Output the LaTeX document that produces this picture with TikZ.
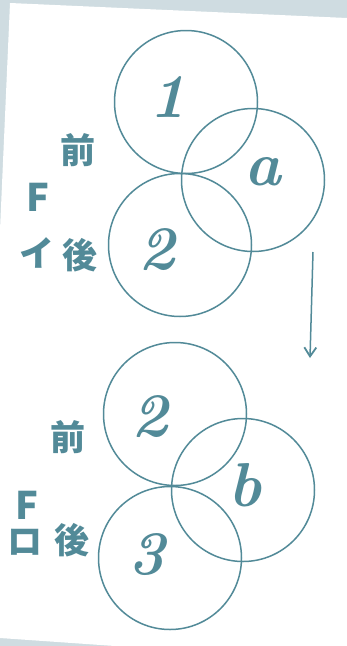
\documentclass[tikz,border=0pt]{standalone}
\usepackage{fontspec}
\usepackage{xcolor}
\usetikzlibrary{arrows.meta}
\newfontfamily\jpfont{Noto Sans CJK JP}
\definecolor{inkc}{HTML}{528A98}
\definecolor{deskc}{HTML}{CFDCE1}
\tikzset{
  ring/.style={draw=inkc, line width=1.5pt, circle, inner sep=0pt, minimum size=143pt},
  glyph/.style={text=inkc, inner sep=0pt, font=\fontsize{62}{62}\selectfont\bfseries\itshape},
  kana/.style={text=inkc, inner sep=0pt, font=\jpfont\bfseries\fontsize{35}{35}\selectfont},
  bigf/.style={kana, font=\jpfont\bfseries\fontsize{38}{38}\selectfont},
  flow/.style={draw=inkc, line width=1.5pt, -{Straight Barb[length=9pt,width=12pt,line width=1.8pt]}},
}
\begin{document}
\begin{tikzpicture}[x=1pt,y=-1pt]
\useasboundingbox (0,0) rectangle (347,646);
\fill[deskc] (0,0) rectangle (347,646);
\fill[white] (10,3) -- (347,18) -- (347,646) -- (115,646) -- (0,638) -- (0,230) -- cycle;
% upper group
\node[ring] (ring1) at (186,102) {};
\node[ring] (ringa) at (253,180) {};
\node[ring] (ring2) at (180,245) {};
\node[glyph] (num1) at (168,97) {1};
\node[glyph] (leta) at (263,172) {a};
\node[glyph] (num2) at (157,250) {2};
\node[kana] (front1) at (78,150) {前};
\node[bigf] (f1) at (38,197) {F};
\node[kana] (i1) at (37,253) {イ};
\node[kana] (back1) at (80,255) {後};
% arrow
\coordinate (from) at (313,252);
\coordinate (to) at (310,358);
\draw[flow] (from) -- (to);
% lower group
\node[ring] (ring2b) at (175,414) {};
\node[ring] (ringb) at (243,490) {};
\node[ring] (ring3) at (170,558) {};
\node[glyph] (num2b) at (150,417) {2};
\node[glyph] (letb) at (245,485) {b};
\node[glyph] (num3) at (147,555) {3};
\node[kana] (front2) at (68,437) {前};
\node[bigf] (f2) at (27,505) {F};
\node[kana] (ro2) at (25,542) {ロ};
\node[kana] (back2) at (72,540) {後};
\end{tikzpicture}
\end{document}
